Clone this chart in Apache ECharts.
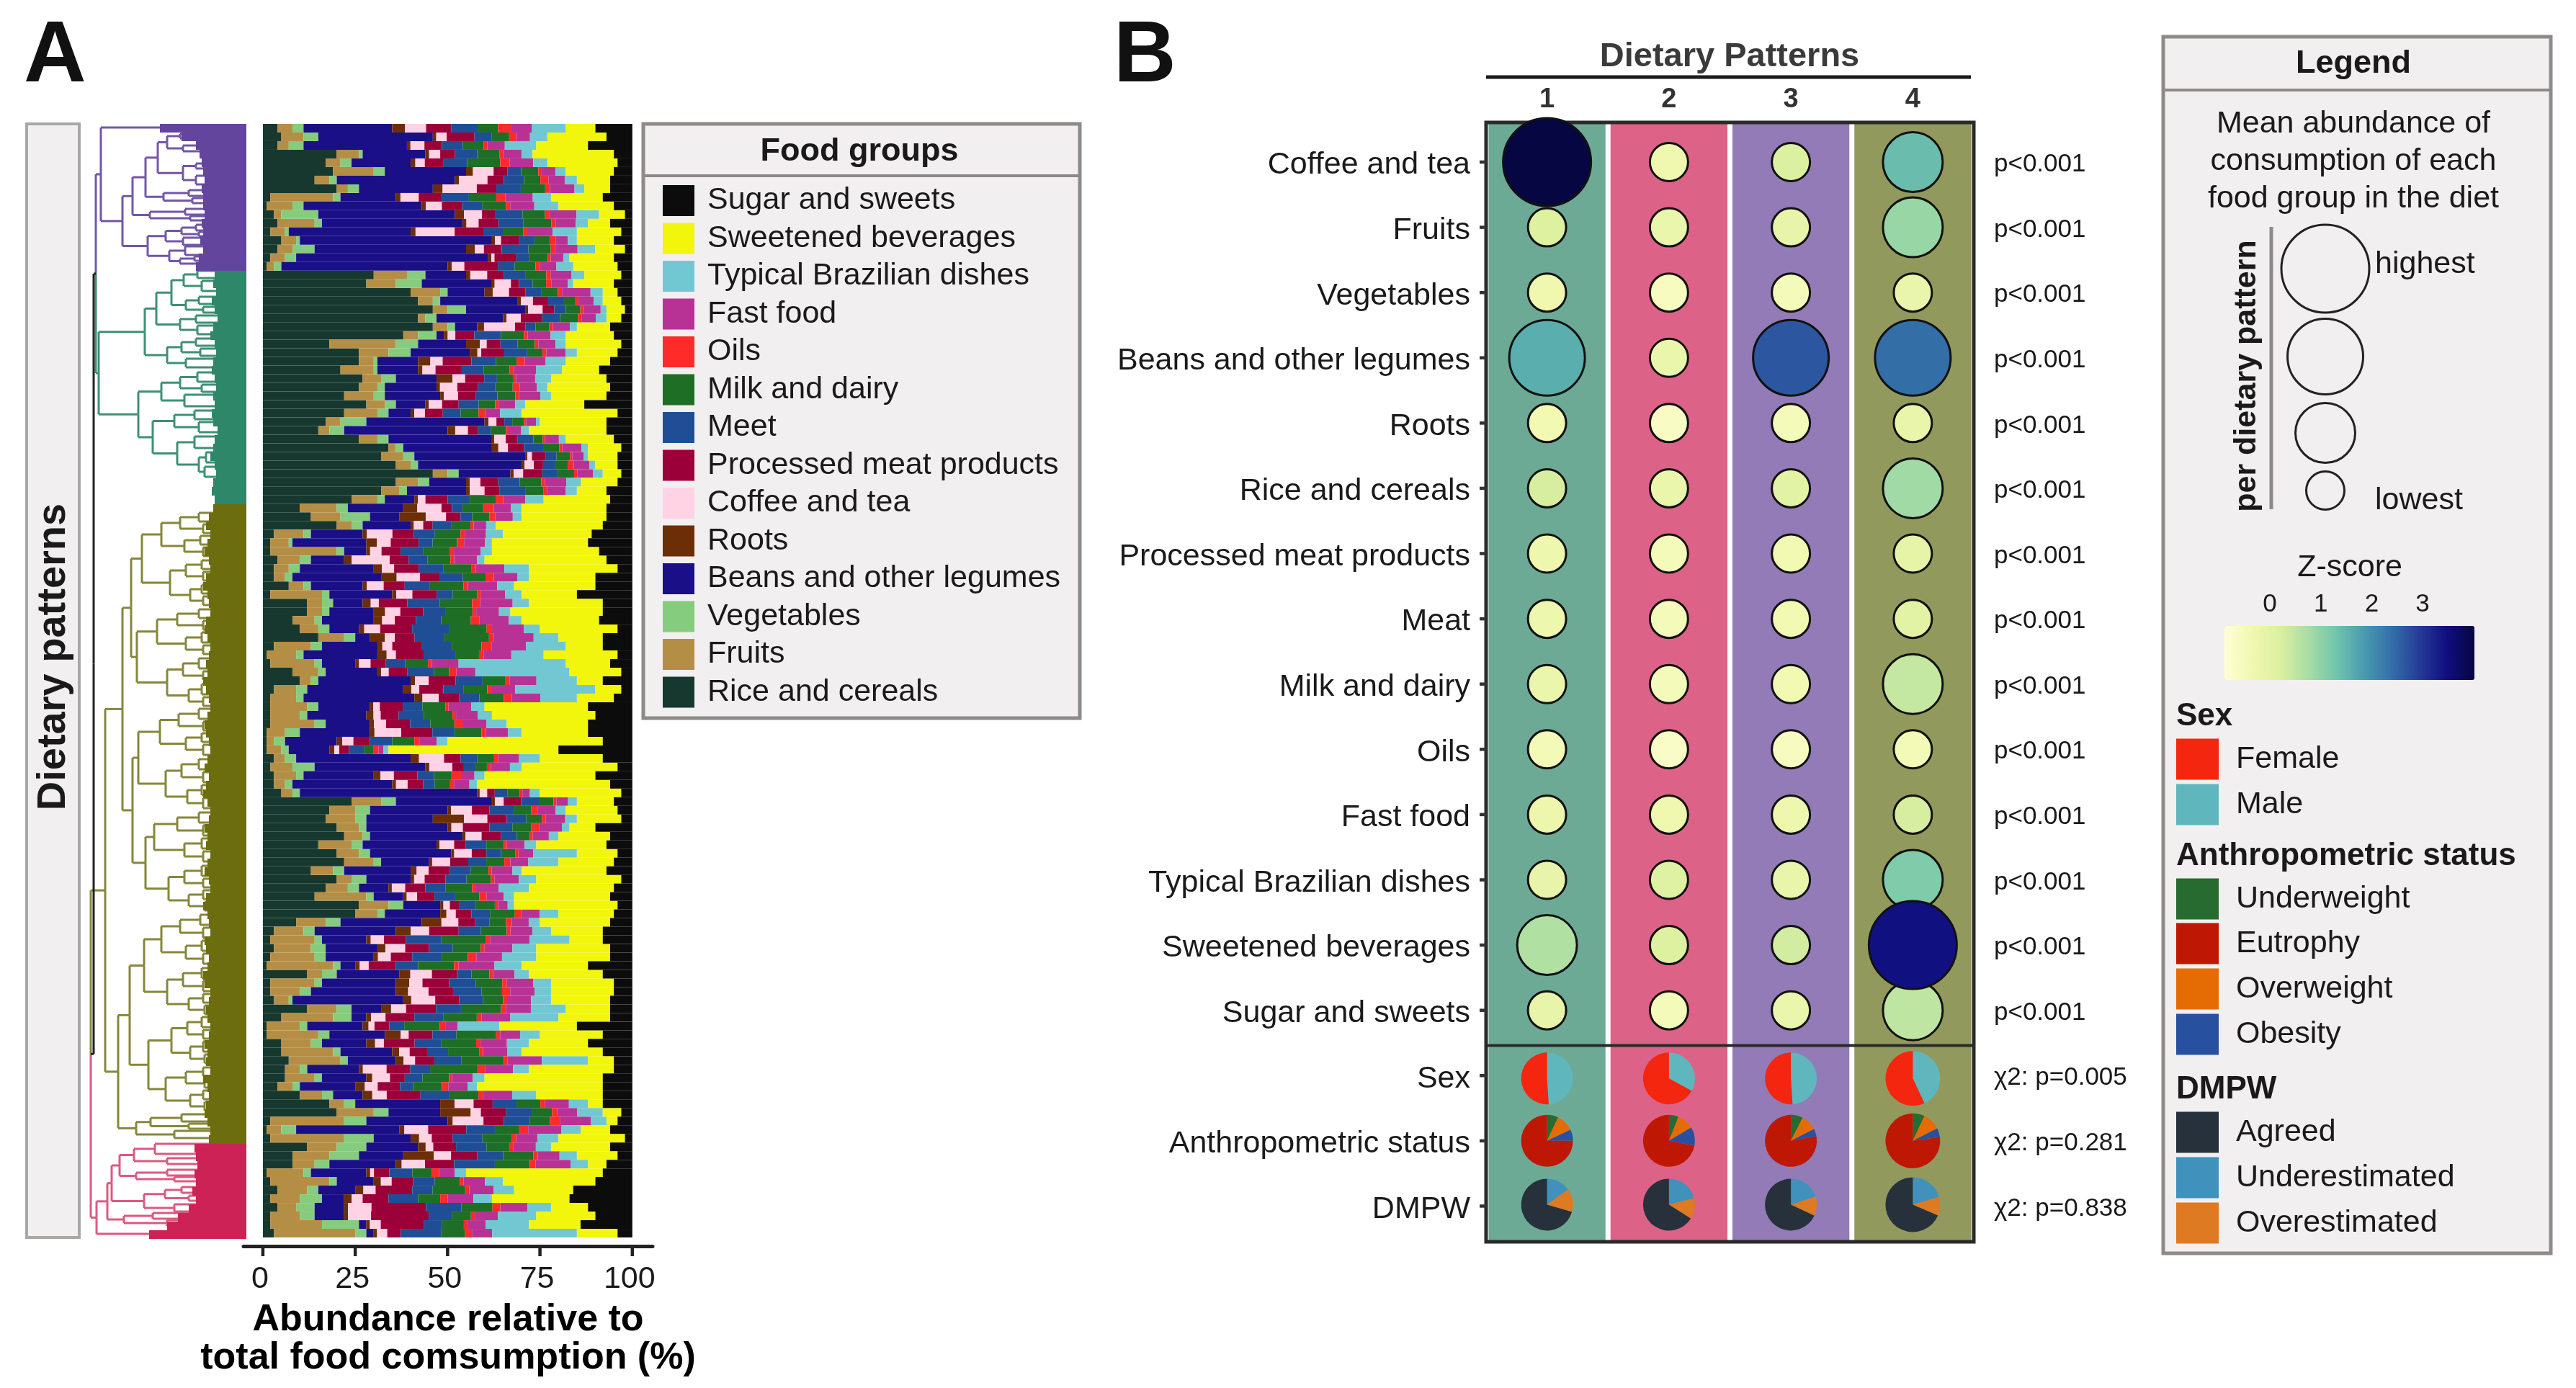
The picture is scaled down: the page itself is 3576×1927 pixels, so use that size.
<!DOCTYPE html>
<html><head><meta charset="utf-8">
<style>html,body{margin:0;padding:0;background:#fff}#c{width:3576px;height:1927px}</style>
<script src="https://cdn.jsdelivr.net/npm/echarts@6/dist/echarts.min.js"></script>
</head><body><div id="c"></div>
<script>
// ---------- PANEL A: food-group share per row (% of the row)
const riceCereals=[
4,5,4,20,17,19,14,20,2,1, 3,4,2,5,4,2,1,30,28,40, 42,46,42,46,38,18,26,26,21,27, 26,22,28,22,17,15,26,34,32,36,
46,36,32,24,10,13,20,3,2,2, 4,3,3,7,2,12,12,8,10,15, 3,1,2,8,10,3,2,2,2,2, 1,1,1,3,2,3,3,5,24,18,
17,20,22,15,20,22,13,20,17,14, 26,25,9,3,2,3,2,1,12,2, 2,3,12,5,1,1,5,5,7,6, 6,4,10,18,20,2,1,2,12,8, 8,1,2,4,2,4,2,2,3];
const fruits=[
4,6,3,6,4,11,4,3,17,7, 2,10,4,4,4,4,2,9,8,8, 4,4,2,4,4,18,8,4,9,5, 5,8,5,9,4,3,5,2,6,4,
4,6,5,7,10,8,4,8,5,18, 6,4,3,4,14,4,4,6,5,7, 10,8,12,7,3,6,7,10,8,12, 5,2,4,3,6,6,3,3,8,7,
8,6,5,9,6,8,6,4,6,14, 8,6,8,8,12,10,12,18,4,12, 8,4,8,14,9,14,8,14,14,4, 8,4,6,4,10,20,4,20,8,10, 6,10,16,8,8,5,8,14,22];
const vegetables=[
3,4,4,1,3,3,2,3,2,3, 10,2,1,1,6,3,2,5,7,2, 2,5,3,2,5,6,6,1,1,4, 2,3,3,3,7,4,3,2,3,2,
3,3,2,2,3,8,3,2,1,2, 3,3,2,2,2,3,2,2,3,3, 3,2,2,2,2,3,2,3,2,3, 4,3,2,3,6,2,2,2,4,4,
3,2,2,3,3,2,3,4,3,2, 4,2,4,3,2,4,3,2,4,2, 3,1,4,5,2,3,3,2,2,2, 2,2,3,3,4,6,4,8,8,8, 4,2,2,3,6,5,4,10,3];
const beansLegumes=[
24,31,28,17,16,22,32,20,15,32, 37,38,33,52,41,52,45,11,19,10, 21,16,18,6,2,13,16,11,11,11, 14,15,8,6,32,28,28,24,30,28,
14,10,16,8,15,8,13,14,20,6, 9,20,24,14,17,8,12,14,8,4, 15,20,9,14,25,26,30,14,16,12, 19,14,11,31,30,19,27,48,26,21,
18,22,25,20,22,13,18,12,8,8, 10,15,22,22,12,14,13,4,17,20, 23,30,8,4,15,15,12,14,13,14, 12,15,8,23,14,22,28,10,14,12, 18,15,10,10,6,8,8,2,2];
const sweetenedBeverages=[
8,16,14,22,19,13,9,7,14,15, 7,6,12,10,8,12,12,10,11,4, 5,5,4,9,13,15,11,12,10,15, 17,15,16,26,18,21,13,9,8,6,
5,10,8,18,23,23,29,24,26,29, 33,24,18,22,15,20,25,21,21,12, 10,20,12,14,7,7,10,28,28,22, 18,42,46,17,26,30,36,22,10,14,
12,7,14,19,11,15,23,23,23,26, 28,15,19,14,9,20,20,18,20,17, 17,16,12,14,21,17,16,22,7,23, 32,34,18,4,5,3,8,18,16,11, 5,37,25,16,21,10,16,14,11];
const sugarSweets=[
10,7,12,5,4,5,6,6,8,5, 2,6,3,5,2,5,4,3,5,4, 3,2,3,6,5,3,4,6,9,7, 6,7,13,4,7,7,5,3,4,4,
3,4,7,6,7,7,8,11,12,9, 7,4,10,10,15,8,8,9,4,8, 8,4,6,3,8,3,5,12,10,12, 12,8,20,8,4,10,6,3,5,4,
3,10,6,7,4,5,7,3,5,6, 4,5,6,8,8,6,6,12,8,5, 5,6,6,6,15,8,12,8,5,5, 8,8,8,8,3,4,6,2,6,4, 7,8,10,16,17,12,10,14,4];
// Relative composition of the mixed middle zone of each row (shares of what is left)
const roots=[
3,1,1,1,1,2,1,2,1,1, 2,1,1,1,2,1,1,1,1,2, 1,1,1,2,1,4,2,3,1,5, 1,1,1,1,2,3,1,2,1,1,
1,1,1,1,4,9,1,1,3,1, 2,2,4,1,1,2,3,2,1,3, 1,2,1,1,1,2,2,1,2,1, 1,1,1,2,1,2,1,1,1,1,
8,1,1,1,1,1,2,1,1,1, 1,2,7,4,1,2,1,1,3,3, 3,2,2,1,2,4,2,2,2,1, 2,3,2,3,6,1,1,2,2,7, 1,1,2,2,2,1,1,1,1];
const coffeeTea=[
5,3,4,3,2,6,7,7,4,4, 4,3,8,2,2,1,3,4,6,4, 4,5,4,9,2,2,1,3,3,4, 5,4,4,3,4,5,5,3,2,3,
3,3,4,2,7,7,3,6,4,3, 10,3,6,4,4,2,4,3,3,2, 2,2,3,2,3,2,4,2,2,3, 6,2,1,6,6,4,3,3,3,6,
6,3,5,5,6,6,4,3,4,3, 2,3,6,5,3,5,3,2,6,3, 5,6,3,3,2,2,2,3,3,6, 6,4,3,4,2,6,5,3,2,4, 4,1,3,3,3,6,6,3,3];
const processedMeat=[
6,8,5,4,4,4,4,4,5,5, 3,5,6,6,4,7,8,4,3,4, 5,4,6,3,5,4,6,7,6,6, 6,5,5,5,4,4,5,5,6,3,
6,5,4,6,3,5,3,5,8,5, 5,6,5,5,6,7,6,5,6,4, 6,6,4,5,6,6,5,7,5,6, 7,3,2,4,3,7,4,3,6,5,
5,7,6,4,5,6,7,6,6,5, 3,5,6,8,5,6,5,6,7,6, 6,6,6,6,5,6,7,5,5,6, 5,7,7,4,5,4,8,5,6,6, 5,4,6,9,7,14,15,12,4];
const meet=[
6,5,6,6,5,4,5,5,6,5, 6,6,4,5,6,4,4,5,5,4, 5,4,5,3,7,5,6,6,5,4, 5,6,6,5,4,5,7,6,5,4,
5,6,7,6,3,4,6,5,4,6, 5,6,6,6,4,8,6,6,7,6, 6,7,5,7,6,5,5,6,7,5, 5,4,3,4,3,5,3,5,6,7,
5,6,5,7,5,6,7,6,6,6, 5,6,5,6,8,6,7,5,4,6, 7,6,5,6,5,6,6,6,7,5, 6,4,6,5,5,5,6,7,8,6, 7,6,6,5,8,9,6,5,12];
const milkDairy=[
5,5,6,6,7,5,4,5,6,6, 5,7,4,5,5,6,5,5,5,4, 4,5,5,4,6,5,4,5,6,5, 5,5,5,5,6,6,4,5,6,4,
5,6,5,7,6,6,6,6,7,7, 6,7,6,8,6,8,7,7,7,9, 6,5,6,4,5,6,6,7,8,6, 6,4,2,4,3,5,4,5,5,5,
4,5,4,6,5,6,6,7,8,7, 6,8,6,7,10,7,6,8,5,6, 5,5,8,7,12,10,8,9,11,12, 9,9,6,5,4,4,5,7,6,7, 6,5,7,8,6,8,5,6,7];
const oils=[
3,2,1,1,2,1,2,1,2,1, 1,1,1,2,1,1,1,1,2,1, 1,1,1,1,1,1,1,2,1,1, 2,1,1,2,1,1,1,1,1,2,
1,1,1,2,3,2,1,1,2,1, 1,1,2,1,1,2,1,2,1,1, 2,1,1,2,1,1,2,1,1,2, 1,1,1,1,1,3,1,1,1,2,
1,2,1,1,1,2,1,1,1,2, 1,2,2,1,1,1,2,1,1,1, 2,1,1,1,2,1,1,1,1,2, 1,2,1,1,1,2,2,1,1,1, 1,2,1,1,2,2,1,1,2];
const fastFood=[
5,4,5,5,5,4,4,5,6,6, 6,5,5,4,5,4,4,5,6,7, 5,6,4,5,6,5,5,5,5,6, 5,6,5,4,5,5,6,6,5,5,
5,6,5,6,5,6,4,5,6,7, 6,7,6,7,6,8,6,7,6,8, 7,6,7,5,6,6,7,7,6,6, 5,3,1,5,5,4,4,3,4,5,
5,6,5,6,5,6,7,7,7,5, 3,6,6,6,9,7,6,8,6,6, 6,6,5,6,4,5,6,7,9,7, 7,6,6,5,4,6,7,5,6,5, 6,4,6,6,7,7,6,5,6];
const typicalBrazilian=[
8,5,9,3,3,3,3,2,4,6, 5,3,5,3,4,2,4,3,2,3, 3,2,3,2,4,3,3,5,6,5, 3,3,3,6,2,3,3,2,2,2,
3,4,3,5,3,3,3,4,2,3, 2,6,3,4,4,4,3,3,3,5, 8,7,28,25,9,20,9,4,4,5, 3,2,1,5,3,3,2,4,3,3,
3,2,3,4,15,10,3,5,9,3, 2,6,4,5,9,6,8,6,4,4, 4,5,7,10,14,5,5,4,12,4, 4,3,5,4,5,3,4,5,4,4, 3,3,5,5,5,6,10,12,25];
const foodGroupNames=['Rice and cereals','Fruits','Vegetables','Beans and other legumes','Roots','Coffee and tea','Processed meat products','Meet','Milk and dairy','Oils','Fast food','Typical Brazilian dishes','Sweetened beverages','Sugar and sweets'];
const foodGroupColors=['#17382F','#B58E45','#86CC7E','#1B0F88','#6B2E06','#FFD2E4','#9B0038','#1F4E96','#1E6E26','#FF2B2B','#B83296','#72C8D2','#F1F60C','#0C0C0C'];
const xTicks=[0,25,50,75,100];
const clusterRowCounts=[17,27,74,11];
const clusterColors=['#63459E','#2E8768','#6B6D0F','#CC2256','#222222'];
const dendroLineColors=['#7356A8','#3F9075','#86873A','#DB5A80','#222222'];
const leafDepth=[120,90,70,65,62,60,58,62,60,60,58,62,60,64,60,66,70,
44,46,42,48,44,40,46,50,44,42,46,48,44,42,46,44,48,46,40,44,46,50,44,42,46,48,44,46,
52,56,50,54,58,52,50,56,60,54,52,50,56,58,54,50,52,56,54,60,56,52,50,54,58,56,52,50,54,58,52,56,60,54,50,52,58,54,56,50,54,58,52,50,56,60,54,52,50,58,56,52,54,60,58,50,52,56,54,50,52,58,54,56,50,60,54,52,56,58,54,50,52,
72,70,68,72,70,75,70,80,95,110,135];
// Dendrograms: [height, upperChild, lowerChild]; a bare number is a leaf position along the rows
const dendroPurple=[202,5,[172,[158,[140,[123,[110,[92,14,20],[88,30,38]],[88,[70,55,62],[70,72,84]]],[115,[80,92,100],[75,103,110]]],[134,[85,118,126],[78,128,134]]],[137,[112,[90,[70,140,148],[66,150,156]],[88,158,168]],[107,[85,170,182],[92,[72,184,190],[66,192,196]]]]]];
const dendroGreen=[205,[141,[125,[104,[87,[68,204,214],[62,218,232]],[84,[66,240,250],[60,254,262]]],[92,[70,266,276],[68,280,292]]],[110,[90,[70,298,308],[64,312,322]],[84,326,338]]],[150,[118,[92,[68,345,358],[62,362,372]],[86,376,392]],[130,[100,[72,398,410],[66,414,428]],[96,[72,434,450],[66,[56,456,470],[58,476,490]]]]]];
const dendroOlive=[196,[172,[160,[145,[118,[92,[66,540,552],[60,556,568]],[86,[64,572,584],[60,588,600]]],[106,[84,[62,606,618],[60,622,634]],[78,[62,640,652],[60,656,668]]]],[152,[124,[96,[66,674,686],[60,690,702]],[84,[62,706,720],[60,724,736]]],[110,[88,[66,742,756],[60,760,772]],[80,[62,778,792],[60,796,808]]]]],[158,[150,[120,[94,[66,812,826],[60,830,842]],[84,[62,846,858],[60,862,876]]],[112,[90,[66,882,896],[60,900,914]],[82,[62,918,932],[60,936,950]]]],[140,[128,[96,[66,956,970],[60,974,988]],[86,[62,992,1006],[60,1010,1024]]],[108,[86,[62,1030,1044],[60,1048,1060]],[80,[60,1064,1076],[58,1080,1092]]]]]],
[178,[162,[142,[118,[92,[64,1098,1112],[60,1116,1130]],[84,[62,1134,1148],[60,1152,1166]]],[110,[88,[62,1172,1186],[60,1190,1204]],[80,[60,1208,1220],[58,1224,1236]]]],[136,[104,[82,[62,1240,1254],[60,1258,1270]],[78,[60,1274,1288],[58,1292,1304]]],[112,[84,[60,1310,1322],[58,1326,1338]],[78,[60,1342,1354],[58,1358,1370]]]]],[153,[133,[90,1375,1385],[80,1388,1395]],[100,1398,1408]]]];
const dendroCrimson=[208,[193,[187,[176,[156,[127,1416,1430],[110,1436,1444]],[153,[110,1452,1460],[100,1462,1468]]],[142,[113,[90,1476,1484],[80,1488,1495]],[100,1500,1510]]],[170,[130,1512,1520],[110,1522,1530]]],1541];

// ---------- PANEL B
const rowLabels=['Coffee and tea','Fruits','Vegetables','Beans and other legumes','Roots','Rice and cereals','Processed meat products','Meat','Milk and dairy','Oils','Fast food','Typical Brazilian dishes','Sweetened beverages','Sugar and sweets','Sex','Anthropometric status','DMPW'];
const rowPValues=['p<0.001','p<0.001','p<0.001','p<0.001','p<0.001','p<0.001','p<0.001','p<0.001','p<0.001','p<0.001','p<0.001','p<0.001','p<0.001','p<0.001','χ2: p=0.005','χ2: p=0.281','χ2: p=0.838'];
const patterns=[1,2,3,4];
const patternColors=['#6DAA96','#DC6387','#927BB6','#919A5C'];
const zPattern1=[3.9,0.05,-0.45,1.5,-0.5,0.15,-0.4,-0.4,-0.3,-0.55,-0.35,-0.2,0.55,-0.2];
const zPattern2=[-0.45,-0.3,-0.7,-0.3,-0.75,-0.3,-0.6,-0.6,-0.6,-0.8,-0.45,0.0,0.05,-0.6];
const zPattern3=[0.1,-0.2,-0.6,2.55,-0.6,-0.1,-0.5,-0.5,-0.5,-0.7,-0.4,-0.25,0.2,-0.3];
const zPattern4=[1.3,0.8,-0.25,2.3,-0.25,0.7,-0.15,-0.1,0.35,-0.55,0.15,1.05,3.35,0.4];
const rankPattern1=[4,1,1,3,1,1,1,1,1,1,1,1,2,1];
const rankPattern2=[1,1,1,1,1,1,1,1,1,1,1,1,1,1];
const rankPattern3=[1,1,1,3,1,1,1,1,1,1,1,1,1,1];
const rankPattern4=[2,2,1,3,1,2,1,1,2,1,1,2,4,2];
const sexMale=[49,33,49,43];
const sexFemale=[51,67,51,57];
const underweight=[7,6,7.5,7];
const overweight=[11,10.4,10,10.5];
const obesity=[7,11.6,4.7,5.3];
const eutrophy=[75,72,77.8,77.2];
const underestimated=[15,21,20,20.5];
const overestimated=[14.5,13,12,11];
const agreed=[70.5,66,68,68.5];
const zColorStops=['#FFFFD4','#F0F8B0','#DCF0A0','#A8DDA4','#72C6AC','#4A9CB0','#3470A8','#263C98','#100E80','#060640'];
const zTicks=[0,1,2,3];

// ---------- styling constants
const FONT='"Liberation Sans", Arial, sans-serif';
const INK='#1a1a1a';
const GREY='#8f8a8a';
const PANEL='#F1EFF0';
const bubbleDiameters=[53,83,105,122];
const ROW_UNIT=12;
const rowCount=riceCereals.length;

// ---------- derive stacked values
const fixedShares={0:riceCereals,1:fruits,2:vegetables,3:beansLegumes,12:sweetenedBeverages,13:sugarSweets};
const midShares={4:roots,5:coffeeTea,6:processedMeat,7:meet,8:milkDairy,9:oils,10:fastFood,11:typicalBrazilian};
const stackValues=foodGroupNames.map(()=>[]);
for(let i=0;i<rowCount;i++){
  let fixed=0;for(const k in fixedShares){fixed+=fixedShares[k][i];stackValues[k].push(fixedShares[k][i]);}
  let mid=0;for(const k in midShares)mid+=midShares[k][i];
  for(const k in midShares)stackValues[k].push(midShares[k][i]*(100-fixed)/mid);
}
// one empty category keeps a gap between the last bar and the axis line
const rowIndex=riceCereals.map((_,i)=>i).concat(['']);
const barSeries=foodGroupNames.map((n,k)=>({
  name:n,type:'bar',stack:'food',xAxisIndex:1,yAxisIndex:1,barWidth:'100%',silent:true,
  itemStyle:{color:foodGroupColors[k]},data:stackValues[k]
}));

// ---------- dendrogram segments: [h1,y1,h2,y2,colorIndex]
const dendroSegs=[];
function link(h,A,ca,B,cb){
  const y=(A.y+B.y)/2;
  dendroSegs.push([h,y,h,A.y,ca],[h,A.y,A.h,A.y,ca],[h,y,h,B.y,cb],[h,B.y,B.h,B.y,cb]);
  return {y,h};
}
function walk(n,c){
  if(typeof n==='number')return {y:n,h:0};
  return link(n[0],walk(n[1],c),c,walk(n[2],c),c);
}
const nPurple=walk(dendroPurple,0),nGreen=walk(dendroGreen,1),nOlive=walk(dendroOlive,2),nCrimson=walk(dendroCrimson,3);
const upperJoin=link(209,nPurple,0,nGreen,1);
const lowerJoin=link(216,nOlive,2,nCrimson,3);
link(212,upperJoin,4,lowerJoin,4);
const leafData=[];let cl=0,lim=clusterRowCounts[0];
leafDepth.forEach((d,i)=>{ if(i>=lim){cl++;lim+=clusterRowCounts[cl];} leafData.push([d,i*ROW_UNIT,(i+1)*ROW_UNIT,cl]); });

// ---------- panel B data
const zByPattern=[zPattern1,zPattern2,zPattern3,zPattern4];
const rankByPattern=[rankPattern1,rankPattern2,rankPattern3,rankPattern4];
const bubbles=[];
patterns.forEach((p,c)=>rowLabels.slice(0,14).forEach((_,r)=>bubbles.push([p,r,zByPattern[c][r],rankByPattern[c][r]])));
bubbles.sort((a,b)=>a[3]-b[3]);
const pieColors=['#5FB7BD','#F4260F','#276B30','#E56C05','#27519F','#BE1703','#4091BC','#DD7A22','#27313B'];
const pieRows=[{row:14,shift:4,parts:[[sexMale,0],[sexFemale,1]]},
 {row:15,shift:0,parts:[[underweight,2],[overweight,3],[obesity,4],[eutrophy,5]]},
 {row:16,shift:-2,parts:[[underestimated,6],[overestimated,7],[agreed,8]]}];
const wedges=[];
pieRows.forEach(pr=>patterns.forEach((p,c)=>{
  let acc=0;pr.parts.forEach(([arr,col])=>{wedges.push([p,pr.row,acc,acc+arr[c],col,pr.shift]);acc+=arr[c];});
}));

// ---------- graphic helpers
const G=[];
const box=(x,y,w,h,fill,stroke,lw)=>G.push({type:'rect',shape:{x,y,width:w,height:h},style:{fill:fill||'none',stroke:stroke||null,lineWidth:lw||0},silent:true});
const txt=(s,x,y,size,opt)=>{opt=opt||{};G.push({type:'text',x,y,rotation:opt.rot||0,silent:true,style:{text:s,font:(opt.bold?'bold ':'')+size+'px '+FONT,fill:opt.fill||INK,textAlign:opt.align||'left',align:opt.align||'left',textVerticalAlign:'middle',verticalAlign:'middle'}});};
const hline=(x1,x2,y,c,lw)=>G.push({type:'line',shape:{x1,y1:y,x2,y2:y},style:{stroke:c,lineWidth:lw},silent:true});
const vline=(x,y1,y2,c,lw)=>G.push({type:'line',shape:{x1:x,y1,x2:x,y2},style:{stroke:c,lineWidth:lw},silent:true});

txt('A',33,80,120,{bold:true,fill:'#111'});
txt('B',1546,80,120,{bold:true,fill:'#111'});
box(37,172,73,1546,PANEL,'#aaa7a7',4);
txt('Dietary patterns',75,912,56,{bold:true,align:'center',rot:Math.PI/2});
// Food groups legend box
box(893,172,606,825,PANEL,GREY,5);
hline(893,1499,244,GREY,4);
txt('Food groups',1193,211,45,{bold:true,align:'center'});
// Panel B header
txt('Dietary Patterns',2401,79,47,{bold:true,align:'center',fill:'#3a3a3a'});
hline(2063,2736,107,'#1a1a1a',5);
// Right legend
box(3003,51,538,1689,PANEL,GREY,5);
hline(3003,3541,125,GREY,4);
txt('Legend',3267,89,45,{bold:true,align:'center'});
txt('Mean abundance of',3267,172,43,{align:'center'});
txt('consumption of each',3267,224,43,{align:'center'});
txt('food group in the diet',3267,276,43,{align:'center'});
txt('per dietary pattern',3119,522,43,{bold:true,align:'center',rot:Math.PI/2});
vline(3153,315,707,GREY,5);
[[3,373],[2,495],[1,601],[0,681]].forEach(([k,cy])=>G.push({type:'circle',shape:{cx:3228,cy,r:bubbleDiameters[k]/2},style:{fill:'none',stroke:'#222',lineWidth:3},silent:true}));
txt('highest',3297,367,43);
txt('lowest',3297,695,43);
txt('Z-score',3262,788,43,{align:'center'});
const zX=z=>3158+z*70.7;
zTicks.forEach(z=>txt(String(z),zX(z)-7,839,35,{align:'center'}));
const sections=[['Sex',995,[['Female',1054,'#F4260F'],['Male',1117,'#5FB7BD']]],
 ['Anthropometric status',1189,[['Underweight',1248,'#276B30'],['Eutrophy',1310,'#BE1703'],['Overweight',1373,'#E56C05'],['Obesity',1436,'#27519F']]],
 ['DMPW',1513,[['Agreed',1572,'#27313B'],['Underestimated',1635,'#4091BC'],['Overestimated',1698,'#DD7A22']]]];
sections.forEach(([t,y,items])=>{
  txt(t,3021,y,44,{bold:true});
  items.forEach(([n,cy,c])=>{box(3021,cy-28.5,59,57,c);txt(n,3104,cy,43);});
});

const zTickMarks=[];
zTicks.forEach(z=>{zTickMarks.push({type:'rect',shape:{x:zX(z)-1.5,y:869,width:3,height:12},style:{fill:'rgba(255,255,255,.75)'},silent:true,z:20});
 zTickMarks.push({type:'rect',shape:{x:zX(z)-1.5,y:932,width:3,height:12},style:{fill:'rgba(255,255,255,.75)'},silent:true,z:20});});

const Y_MIN=-0.607,Y_MAX=16.547,DIVIDER=13.54,SEP=0.0207;
const rowTicks=rowLabels.map((_,i)=>i);

const option={
  animation:false,backgroundColor:'#fff',
  textStyle:{fontFamily:FONT},
  graphic:[{elements:G,z:0},{elements:zTickMarks,z:20,zlevel:1}],
  legend:{
    left:920,top:257,orient:'vertical',icon:'rect',itemWidth:44,itemHeight:43,itemGap:9.5,padding:0,selectedMode:false,z:6,
    textStyle:{fontSize:43,color:INK,fontFamily:FONT,padding:[0,0,0,13]},
    data:foodGroupNames.slice().reverse()
  },
  visualMap:{
    type:'continuous',seriesIndex:barSeries.length+2,dimension:2,min:-1,max:3.92,orient:'horizontal',
    left:3088,top:869,itemWidth:75,itemHeight:347,padding:0,calculable:false,hoverLink:false,show:true,
    inRange:{color:zColorStops},z:8
  },
  grid:[
    {left:126,top:172,width:216,height:1546},
    {left:338,top:172,width:568,height:1558},
    {left:2063,top:170,width:677,height:1554}
  ],
  xAxis:[
    {gridIndex:0,type:'value',inverse:true,min:0,max:216,show:false},
    {gridIndex:1,type:'value',min:-5.25,max:105.5,position:'bottom',splitLine:{show:false},
     axisLine:{show:true,onZero:false,lineStyle:{color:'#222',width:5}},
     axisTick:{show:false},
     axisLabel:{show:true,customValues:xTicks,fontSize:43,color:INK,margin:25,padding:[0,8,0,0],fontFamily:FONT},
     name:'Abundance relative to\ntotal food comsumption (%)',nameLocation:'middle',nameGap:76,
     nameTextStyle:{fontSize:52,fontWeight:'bold',color:'#000',lineHeight:53,fontFamily:FONT}},
    {gridIndex:2,type:'value',min:0.5,max:4.5,position:'top',splitLine:{show:false},
     axisLine:{show:false},axisTick:{show:false},
     axisLabel:{show:true,customValues:patterns,fontSize:38,fontWeight:'bold',color:'#333',margin:12,fontFamily:FONT}}
  ],
  yAxis:[
    {gridIndex:0,type:'value',inverse:true,min:0,max:1546,show:false},
    {gridIndex:1,type:'category',inverse:true,data:rowIndex,show:false},
    {gridIndex:2,type:'value',inverse:true,min:Y_MIN,max:Y_MAX,position:'left',splitLine:{show:false},
     axisLine:{show:false},axisTick:{show:false},
     axisLabel:{show:true,customValues:rowTicks,fontSize:43,color:INK,margin:22,verticalAlign:'top',padding:[-17,0,0,0],fontFamily:FONT,formatter:v=>rowLabels[v]}},
    {gridIndex:2,type:'value',inverse:true,min:Y_MIN,max:Y_MAX,position:'right',splitLine:{show:false},
     axisLine:{show:false},axisTick:{show:false},
     axisLabel:{show:true,customValues:rowTicks,fontSize:35,color:INK,margin:28,verticalAlign:'top',padding:[-14,0,0,0],fontFamily:FONT,formatter:v=>rowPValues[v]}}
  ],
  series:[
    ...barSeries,
    // column bands
    {type:'custom',xAxisIndex:2,yAxisIndex:2,silent:true,z:1,clip:false,data:patterns.map((p,i)=>[p,i]),
     renderItem:(params,api)=>{
       const c=api.value(0),a=api.coord([c-0.5+SEP,Y_MIN]),b=api.coord([c+0.5-SEP,Y_MAX]);
       return {type:'rect',shape:{x:a[0],y:a[1],width:b[0]-a[0],height:b[1]-a[1]},style:{fill:patternColors[api.value(1)]}};
     }},
    // frame and divider
    {type:'custom',xAxisIndex:2,yAxisIndex:2,silent:true,z:2,clip:false,data:[[DIVIDER]],
     renderItem:(params,api)=>{
       const a=api.coord([0.5,Y_MIN]),b=api.coord([4.5,Y_MAX]),m=api.coord([0.5,api.value(0)]);
       return {type:'group',children:[
         {type:'rect',shape:{x:a[0],y:a[1],width:b[0]-a[0],height:b[1]-a[1]},style:{fill:'none',stroke:'#2a2a2a',lineWidth:5}},
         {type:'line',shape:{x1:a[0],y1:m[1],x2:b[0],y2:m[1]},style:{stroke:'#2a2a2a',lineWidth:4}}
       ]};
     }},
    // bubbles
    {type:'scatter',xAxisIndex:2,yAxisIndex:2,clip:false,silent:true,z:3,data:bubbles,symbol:'circle',
     symbolSize:v=>bubbleDiameters[v[3]-1],
     itemStyle:{opacity:1,borderColor:'#111',borderWidth:3}},
    // pies
    {type:'custom',xAxisIndex:2,yAxisIndex:2,silent:true,z:3,clip:false,data:wedges,
     renderItem:(params,api)=>{
       const p=api.coord([api.value(0),api.value(1)]);
       const s=-Math.PI/2+2*Math.PI*api.value(2)/100,e=-Math.PI/2+2*Math.PI*api.value(3)/100;
       return {type:'sector',shape:{cx:p[0],cy:p[1]+api.value(5),r:api.value(0)===4?38:36,r0:0,startAngle:s,endAngle:e,clockwise:true},style:{fill:pieColors[api.value(4)]}};
     }},
    // dendrogram lines
    {type:'custom',xAxisIndex:0,yAxisIndex:0,silent:true,z:2,clip:false,data:dendroSegs,
     renderItem:(params,api)=>{
       const a=api.coord([api.value(0),api.value(1)]),b=api.coord([api.value(2),api.value(3)]);
       return {type:'line',shape:{x1:a[0],y1:a[1],x2:b[0],y2:b[1]},style:{stroke:dendroLineColors[api.value(4)],lineWidth:3}};
     }},
    // dendrogram leaf block
    {type:'custom',xAxisIndex:0,yAxisIndex:0,silent:true,z:3,clip:false,data:leafData,
     renderItem:(params,api)=>{
       const a=api.coord([api.value(0),api.value(1)]),b=api.coord([0,api.value(2)]);
       return {type:'rect',shape:{x:a[0],y:a[1],width:b[0]-a[0],height:b[1]-a[1]},style:{fill:clusterColors[api.value(3)]}};
     }},
    // x-axis tick marks of panel A
    {type:'custom',xAxisIndex:1,yAxisIndex:1,silent:true,z:5,clip:false,data:xTicks.map(v=>[v,0]),
     renderItem:(params,api)=>{
       const p=api.coord([api.value(0),0]),y=params.coordSys.y+params.coordSys.height;
       return {type:'rect',shape:{x:p[0]-2.25,y:y,width:4.5,height:14},style:{fill:'#222'}};
     }},
    // row tick marks of panel B
    {type:'custom',xAxisIndex:2,yAxisIndex:2,silent:true,z:5,clip:false,data:rowTicks.map(v=>[1,v]),
     renderItem:(params,api)=>{
       const p=api.coord([0.5,api.value(1)]);
       return {type:'rect',shape:{x:p[0]-9,y:p[1]-2.25,width:9,height:4.5},style:{fill:'#333'}};
     }}
  ]
};
const chart=echarts.init(document.getElementById('c'),null,{renderer:'canvas',width:3576,height:1927});
chart.setOption(option);
</script></body></html>
